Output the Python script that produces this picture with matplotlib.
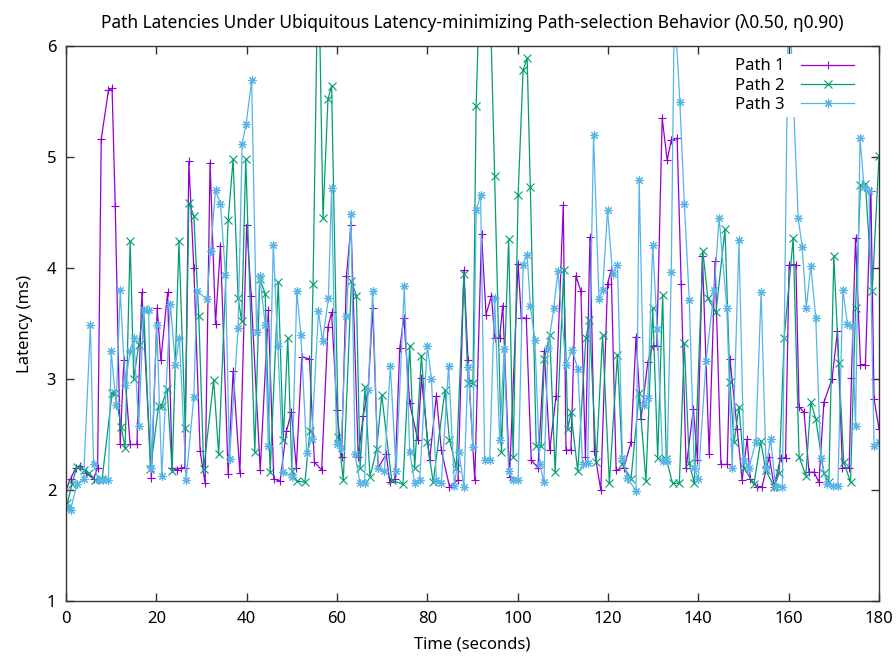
import matplotlib
matplotlib.use("Agg")
import matplotlib.pyplot as plt

title = "Path Latencies Under Ubiquitous Latency-minimizing Path-selection Behavior (λ0.50, η0.90)"
xlabel = "Time (seconds)"
ylabel = "Latency (ms)"
series_names = ["Path 1", "Path 2", "Path 3"]

p1_t = [0, 1, 2.2, 3.2, 4.5, 6.1, 7.0, 7.8, 9.4, 10.2, 10.9, 12.0, 12.8, 14.2, 15.7, 16.8, 18.9, 20.2, 21.0, 22.5,
        23.5, 24.5, 25.5, 26.3, 27.2, 28.3, 29.7, 30.8, 31.9, 33.1, 34.2, 35.9, 37.0, 38.5, 40.0, 41.0, 43.0, 44.8,
        46.0, 47.4, 48.8, 49.9, 51.0, 52.2, 53.9, 55.0, 56.6, 58.0, 58.8, 60.0, 61.0, 62.1, 63.1, 64.7, 65.8, 66.9,
        67.9, 69.1, 70.9, 71.7, 72.8, 73.9, 74.8, 76.1, 77.9, 78.7, 80.5, 82.0, 83.1, 84.9, 86.8, 88.1, 89.0, 90.5,
        92.0, 93.0, 94.2, 94.9, 96.0, 96.7, 98.2, 100.1, 100.8, 101.9, 103.0, 104.5, 105.9, 107.1, 108.5, 110.1,
        110.7, 111.8, 112.9, 114.0, 115.0, 116.0, 117.0, 118.4, 119.9, 120.7, 121.8, 123.5, 125.1, 126.2, 127.3,
        128.8, 129.9, 130.8, 132.0, 133.1, 134.0, 135.3, 136.2, 137.3, 138.9, 139.8, 140.9, 142.4, 143.7, 145.0,
        146.4, 147.0, 148.6, 149.7, 150.8, 151.5, 153.0, 154.1, 155.7, 156.8, 158.2, 159.3, 160.1, 161.6, 162.3,
        163.4, 164.5, 165.6, 166.7, 167.8, 169.6, 170.8, 171.9, 173.4, 173.9, 174.8, 175.9, 177.0, 178.2, 178.9, 180.0]
p1_v = [2.0, 2.1, 2.2, 2.22, 2.15, 2.1, 2.2, 5.16, 5.6, 5.62, 4.56, 2.41, 3.17, 2.41, 2.41, 3.78, 2.11, 3.64, 3.17, 3.78,
        2.2, 2.18, 2.2, 2.2, 4.96, 4.0, 2.35, 2.06, 4.95, 3.5, 4.2, 2.14, 3.07, 2.15, 4.39, 3.75, 2.18, 3.62,
        2.1, 2.08, 2.53, 2.7, 2.2, 3.2, 3.18, 2.25, 2.18, 3.47, 3.6, 2.72, 2.3, 3.93, 4.39, 2.3, 2.67, 2.9,
        3.64, 2.2, 2.32, 2.07, 2.1, 3.28, 3.55, 2.78, 2.45, 3.01, 2.27, 2.85, 2.36, 2.03, 2.09, 3.98, 3.17, 2.09,
        4.31, 3.58, 3.75, 3.37, 3.37, 3.66, 2.12, 4.04, 3.55, 3.55, 2.27, 2.2, 3.25, 2.36, 2.85, 4.57,
        2.36, 2.36, 3.93, 3.79, 2.3, 4.28, 2.35, 2.0, 3.86, 3.98, 2.18, 2.2, 2.43, 3.38, 2.64,
        3.15, 3.3, 3.3, 5.35, 4.97, 5.15, 5.17, 3.86, 2.2, 2.73, 2.27, 4.11, 2.32, 4.06, 2.23,
        2.23, 3.18, 2.55, 2.09, 2.46, 2.1, 2.03, 2.03, 2.3, 2.03, 2.29, 2.29, 4.03, 4.03, 2.75,
        2.7, 2.16, 2.16, 2.07, 2.79, 3.0, 3.43, 2.2, 2.2, 3.01, 4.27, 3.13, 3.13, 4.69, 2.82, 2.55]

p2_t = [0.3, 1.3, 2.4, 3.9, 5.0, 6.5, 8.0, 10.2, 10.9, 12.2, 13.1, 14.2, 15.0, 16.1, 17.2, 18.7, 20.5, 21.2, 22.4,
        23.5, 25.0, 26.4, 27.2, 28.3, 29.4, 30.5, 32.7, 33.8, 35.9, 37.0, 38.1, 38.9, 39.8, 41.8, 42.9, 44.1, 45.2,
        47.0, 48.1, 49.1, 50.0, 51.1, 52.9, 54.0, 54.7, 55.85, 56.9, 58.0, 58.8, 60.3, 61.4, 63.2, 64.3, 65.1, 66.2,
        67.3, 68.8, 69.9, 72.1, 74.6, 76.1, 77.2, 78.7, 80.0, 81.3, 83.9, 84.9, 86.4, 88.1, 89.0, 90.1, 90.8, 92.8,
        94.9, 96.4, 98.0, 99.0, 100.1, 101.2, 102.1, 102.8, 104.1, 105.2, 105.9, 107.1, 108.3, 110.2, 111.1, 111.8,
        113.3, 115.1, 115.9, 117.4, 118.8, 120.3, 122.1, 123.2, 125.1, 126.9, 128.4, 129.9, 131.0, 132.1, 132.9,
        134.3, 135.8, 136.9, 138.0, 139.1, 141.0, 142.1, 143.9, 145.9, 147.0, 147.9, 149.0, 150.1, 152.3, 153.8,
        154.9, 156.8, 157.9, 159.0, 161.0, 162.3, 163.8, 164.9, 166.0, 167.8, 168.9, 170.0, 171.1, 172.2, 173.7,
        174.8, 175.9, 177.0, 178.5, 180.0]
p2_v = [1.88, 2.05, 2.21, 2.18, 2.15, 2.09, 2.1, 2.87, 2.87, 2.57, 2.38, 4.24, 3.0, 3.31, 3.63, 2.19, 2.76, 2.76, 2.91,
        2.17, 4.24, 2.56, 4.59, 4.47, 3.57, 2.19, 2.99, 2.32, 4.43, 4.98, 3.73, 3.52, 4.98, 2.34, 3.9, 3.77, 2.16,
        3.87, 2.45, 3.37, 2.17, 2.08, 2.07, 2.53, 3.86, 6.9, 4.45, 5.52, 5.64, 2.48, 2.09, 3.88, 3.75, 2.2, 2.93,
        2.12, 2.37, 2.86, 2.09, 2.05, 3.3, 2.2, 3.21, 2.43, 2.07, 2.9, 2.45, 2.2, 3.95, 2.96, 2.96, 5.46, 8.2,
        4.83, 2.34, 4.26, 2.3, 4.66, 5.78, 5.89, 4.73, 2.4, 2.4, 3.18, 3.4, 2.16, 3.98, 2.55, 2.7,
        2.17, 3.37, 3.53, 2.25, 3.4, 2.06, 3.22, 2.23, 2.1, 2.87, 2.08, 3.64, 2.29, 3.76, 2.28,
        2.06, 2.06, 3.32, 2.24, 2.06, 4.15, 3.73, 3.6, 4.35, 2.97, 2.43, 2.75, 2.2, 2.05, 2.44,
        2.18, 2.03, 2.15, 3.37, 4.27, 2.3, 2.13, 2.79, 2.64, 2.15, 2.07, 4.11, 3.14, 2.25, 2.07,
        3.64, 4.75, 4.76, 3.79, 5.01]

p3_t = [0.5, 1.0, 2.4, 3.9, 5.4, 6.1, 7.2, 8.3, 9.4, 10.0, 11.1, 12.0, 13.1, 14.2, 15.0, 16.1, 17.2, 18.3, 18.9, 20.1,
        21.2, 23.1, 24.2, 25.1, 26.6, 28.3, 29.0, 31.2, 32.0, 33.1, 34.2, 35.3, 36.2, 38.1, 39.0, 39.9, 41.1, 42.2,
        42.9, 44.1, 44.8, 45.9, 46.9, 48.1, 50.0, 51.1, 52.0, 53.3, 54.4, 55.9, 56.8, 58.1, 58.8, 59.9, 60.9, 62.1,
        63.1, 64.0, 65.1, 66.1, 66.9, 67.9, 69.1, 70.5, 71.8, 73.1, 74.9, 76.1, 77.2, 78.3, 80.0, 80.9, 82.0, 83.1,
        84.7, 86.0, 87.0, 88.1, 89.0, 90.1, 90.8, 91.8, 92.7, 93.8, 94.9, 96.0, 97.0, 98.0, 99.0, 100.1, 101.2, 102.1,
        102.8, 103.8, 104.9, 105.8, 106.7, 108.0, 108.9, 110.7, 112.1, 113.3, 114.4, 115.5, 116.8, 118.0, 118.8,
        119.9, 121.0, 122.1, 123.2, 124.3, 126.2, 126.9, 128.0, 128.8, 129.9, 130.9, 132.1, 133.1, 134.0, 134.7,
        135.9, 136.9, 138.0, 139.1, 140.0, 141.7, 143.5, 144.6, 146.3, 147.5, 149.0, 150.1, 151.2, 152.7, 153.9,
        155.0, 156.0, 157.1, 158.6, 160.0, 162.1, 163.0, 163.9, 164.9, 166.0, 167.1, 168.5, 169.9, 170.9, 172.0,
        173.0, 174.1, 174.8, 175.8, 176.7, 177.8, 178.9, 180.0]
p3_v = [1.85, 1.82, 2.05, 2.1, 3.49, 2.23, 2.09, 2.09, 2.09, 3.25, 2.77, 3.8, 2.95, 3.25, 3.37, 2.58, 3.62, 3.62, 2.2, 3.49,
        2.13, 3.68, 3.13, 3.37, 2.09, 2.84, 3.79, 3.72, 4.15, 4.7, 4.58, 3.94, 2.28, 3.46, 5.12, 5.3, 5.69, 3.42,
        3.93, 3.49, 2.4, 4.21, 3.3, 2.16, 2.12, 3.79, 3.4, 2.33, 2.46, 3.61, 3.34, 3.73, 4.72, 2.41, 2.38, 3.57,
        4.49, 2.32, 2.06, 2.06, 2.9, 3.79, 2.2, 2.17, 3.12, 2.17, 3.84, 2.34, 2.06, 2.09, 3.3, 3.0, 2.09, 2.06,
        3.12, 2.04, 2.34, 2.03, 3.11, 2.39, 4.52, 4.66, 2.27, 2.27, 3.73, 2.45, 3.27, 2.17, 2.09, 2.09, 4.03, 4.12,
        3.66, 3.35, 2.23, 2.07, 3.28, 3.64, 3.97, 3.13, 3.26, 3.09, 2.23, 2.24, 5.2, 3.72, 3.8,
        4.52, 3.95, 4.03, 2.29, 2.11, 1.99, 4.79, 2.77, 2.83, 4.21, 3.45, 2.26, 2.26, 3.96, 6.4,
        5.5, 4.58, 3.71, 2.2, 2.1, 3.16, 3.8, 4.45, 3.64, 2.2, 4.25, 2.26, 2.2, 2.43, 3.78,
        2.2, 2.46, 2.03, 2.03, 6.6, 4.45, 4.19, 3.64, 4.02, 3.55, 2.29, 2.05, 2.04, 2.04, 3.8,
        3.5, 3.48, 2.58, 5.17, 4.73, 4.69, 2.4, 2.43]

x_ticks = [0, 20, 40, 60, 80, 100, 120, 140, 160, 180]
y_ticks = [1, 2, 3, 4, 5, 6]

colors = ["#9400D3", "#009E73", "#56B4E9"]
markers = ["+", "x", (8, 2, 0)]

plt.rcParams['font.family'] = ['Noto Sans', 'DejaVu Sans']

fig = plt.figure(figsize=(8.96, 6.68), dpi=100)
ax = fig.add_axes([66/896, 1 - 601/668, (879 - 66)/896, (601 - 46)/668])

data = [(p1_t, p1_v), (p2_t, p2_v), (p3_t, p3_v)]
for (t, v), name, c, m in zip(data, series_names, colors, markers):
    ax.plot(t, v, color=c, lw=0.9, marker=m, markersize=6, markeredgewidth=0.8, label=name)

ax.set_xlim(0, 180)
ax.set_ylim(1, 6)
ax.set_xticks(x_ticks)
ax.set_yticks(y_ticks)
ax.tick_params(direction='in', length=6, width=1, top=True, right=True, labelsize=12, pad=7, colors='#333333',
               labelcolor='black')
for s in ax.spines.values():
    s.set_color('#333333')
    s.set_linewidth(1)

ax.set_title(title, fontsize=12.5, pad=13)
ax.set_xlabel(xlabel, fontsize=12, labelpad=7)
ax.set_ylabel(ylabel, fontsize=12, labelpad=10)

leg = ax.legend(loc='upper right', bbox_to_anchor=(0.985, 1.0), markerfirst=False, frameon=True,
                fontsize=12, handlelength=3.2, handletextpad=1.0, labelspacing=0.2, borderpad=0.25,
                fancybox=False)
leg.get_frame().set_edgecolor('none')
leg.get_frame().set_facecolor('white')
leg.get_frame().set_alpha(1.0)

fig.savefig("out.png", dpi=100)
